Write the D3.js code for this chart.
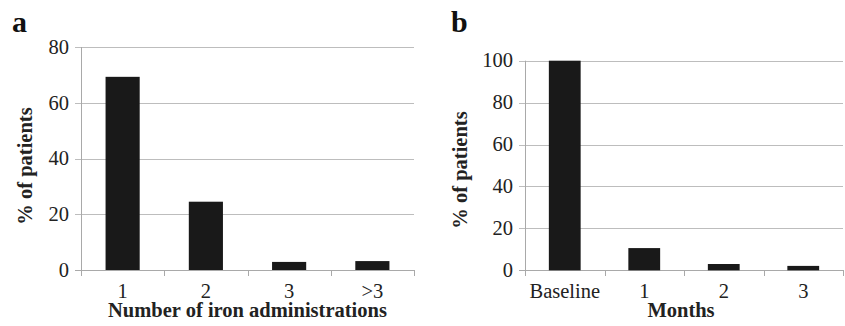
<!DOCTYPE html>
<html>
<head>
<meta charset="utf-8">
<script src="https://cdn.jsdelivr.net/npm/d3@7"></script>
<style>
  body { margin: 0; background: #fff; }
  svg { display: block; font-family: "Liberation Serif", "Times New Roman", serif; }
</style>
</head>
<body>
<div id="chart"></div>
<script>
// panel a
var adminCats = ["1", "2", "3", ">3"],
    adminValues = [69.3, 24.5, 2.9, 3.2],
    adminTicks = [0, 20, 40, 60, 80];

// panel b
var monthCats = ["Baseline", "1", "2", "3"],
    monthValues = [100, 10.6, 3.0, 2.1],
    monthTicks = [0, 20, 40, 60, 80, 100];

var svg = d3.select("#chart")
    .append("svg")
    .attr("width", 845)
    .attr("height", 326);

var gridColor = "#bdbdbd",
    axisColor = "#a9a9a9",
    barColor = "#191919",
    textColor = "#222";

function drawPanel(opt) {
    var g = svg.append("g");

    var x = d3.scaleBand()
        .domain(opt.cats)
        .range([opt.left, opt.right])
        .padding(0);

    var y = d3.scaleLinear()
        .domain([0, opt.max])
        .range([opt.bottom, opt.top]);

    var barW = x.bandwidth() * opt.barFrac;

    // gridlines
    g.selectAll("line.grid")
        .data(opt.ticks)
        .enter()
        .append("line")
        .attr("class", "grid")
        .attr("x1", opt.left - 6)
        .attr("x2", opt.right)
        .attr("y1", function (d) { return Math.round(y(d)) + 0.5; })
        .attr("y2", function (d) { return Math.round(y(d)) + 0.5; })
        .style("stroke", function (d) { return d === 0 ? axisColor : gridColor; })
        .style("stroke-width", 1);

    // y axis line
    g.append("line")
        .attr("x1", Math.round(opt.left) + 0.5)
        .attr("x2", Math.round(opt.left) + 0.5)
        .attr("y1", y(opt.max))
        .attr("y2", opt.bottom)
        .style("stroke", axisColor);

    // x tick marks at category edges
    var edges = opt.cats.map(function (d) { return x(d); }).concat([opt.right]);
    g.selectAll("line.xtick")
        .data(edges)
        .enter()
        .append("line")
        .attr("class", "xtick")
        .attr("x1", function (d) { return Math.round(d) + 0.5; })
        .attr("x2", function (d) { return Math.round(d) + 0.5; })
        .attr("y1", Math.round(y(0)))
        .attr("y2", Math.round(y(0)) + 6)
        .style("stroke", axisColor);

    // bars
    g.selectAll("rect.bar")
        .data(opt.values)
        .enter()
        .append("rect")
        .attr("class", "bar")
        .attr("x", function (d, i) { return x(opt.cats[i]) + (x.bandwidth() - barW) / 2; })
        .attr("y", function (d) { return y(d); })
        .attr("width", barW)
        .attr("height", function (d) { return y(0) - y(d); })
        .style("fill", barColor);

    // y tick labels
    g.selectAll("text.ylab")
        .data(opt.ticks)
        .enter()
        .append("text")
        .attr("class", "ylab")
        .attr("x", opt.left - 12)
        .attr("y", function (d) { return y(d); })
        .attr("dy", "0.33em")
        .attr("text-anchor", "end")
        .style("font-size", "20.5px")
        .style("fill", textColor)
        .text(function (d) { return d; });

    // x tick labels
    g.selectAll("text.xlab")
        .data(opt.cats)
        .enter()
        .append("text")
        .attr("class", "xlab")
        .attr("x", function (d) { return x(d) + x.bandwidth() / 2; })
        .attr("y", 297.5)
        .attr("text-anchor", "middle")
        .style("font-size", "20.5px")
        .style("fill", textColor)
        .text(function (d) { return d; });

    // x title
    g.append("text")
        .attr("x", (opt.left + opt.right) / 2 + opt.xTitleShift)
        .attr("y", 317)
        .attr("text-anchor", "middle")
        .style("font-size", "20.5px")
        .style("font-weight", "bold")
        .style("fill", textColor)
        .text(opt.xTitle);

    // y title
    g.append("text")
        .attr("transform", "translate(" + opt.yTitleX + "," + opt.yTitleY + ") rotate(-90)")
        .attr("text-anchor", "middle")
        .style("font-size", "20.5px")
        .style("font-weight", "bold")
        .style("fill", textColor)
        .text("% of patients");

    // panel letter
    g.append("text")
        .attr("x", opt.letterX)
        .attr("y", 32)
        .style("font-size", "30px")
        .style("font-weight", "bold")
        .style("fill", "#111")
        .text(opt.letter);
}

drawPanel({
    cats: adminCats, values: adminValues, ticks: adminTicks, max: 80,
    left: 81, right: 414, top: 47, bottom: 270, barFrac: 0.41,
    xTitle: "Number of iron administrations", xTitleShift: 0,
    yTitleX: 32, yTitleY: 166, letter: "a", letterX: 12
});

drawPanel({
    cats: monthCats, values: monthValues, ticks: monthTicks, max: 100,
    left: 525, right: 843, top: 60.7, bottom: 270.3, barFrac: 0.40,
    xTitle: "Months", xTitleShift: -3,
    yTitleX: 467, yTitleY: 170, letter: "b", letterX: 451
});
</script>
</body>
</html>
